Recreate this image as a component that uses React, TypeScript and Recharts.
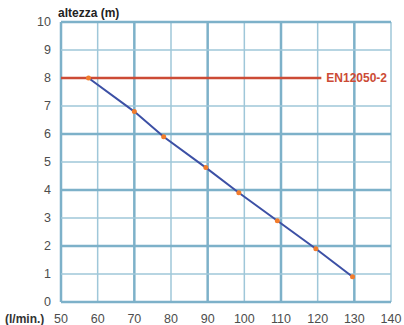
import React from 'react';
import { ComposedChart, XAxis, YAxis, Line, ReferenceLine, LabelList } from 'recharts';

const flowTicks = [50, 60, 70, 80, 90, 100, 110, 120, 130, 140];
const heightTicks = [0, 1, 2, 3, 4, 5, 6, 7, 8, 9, 10];
const flowValues = [57.5, 70, 78, 89.5, 98.5, 109, 119.5, 129.5];
const headValues = [8, 6.8, 5.9, 4.8, 3.9, 2.9, 1.9, 0.9];
const normLevel = 8;
const normStart = 50;
const normEnd = 121;
const normLabel = 'EN12050-2';
const xTitle = '(l/min.)';
const yTitle = 'altezza (m)';

const curve = flowValues.map((q, i) => ({ q, h: headValues[i] }));
const normLine = [
  { q: normStart, h: normLevel, tag: '' },
  { q: normEnd, h: normLevel, tag: normLabel },
];

const FONT = '"Liberation Sans", Arial, sans-serif';
const MAJOR = '#7db1c9';
const MINOR = '#9fc7d9';
const RED = '#cc4b35';

const NormTag = (props: any) => {
  const { x, y, value } = props;
  if (!value) return null;
  return (
    <text
      x={x + 5}
      y={y}
      dy="0.36em"
      fill={RED}
      fontSize={12}
      fontWeight="bold"
      fontFamily={FONT}
      textAnchor="start"
    >
      {value}
    </text>
  );
};

export default function App() {
  return (
    <div style={{ position: 'absolute', left: 0, top: 0, background: '#fff' }}>
      <ComposedChart
        width={404}
        height={325}
        data={curve}
        margin={{ top: 22, right: 13, left: 0, bottom: 0 }}
      >
        <XAxis
          dataKey="q"
          type="number"
          domain={[50, 140]}
          ticks={flowTicks}
          allowDataOverflow
          axisLine={false}
          tickLine={false}
          tickSize={0}
          tickMargin={12}
          height={23}
          interval={0}
          tick={{ fill: '#4d4d4d', fontSize: 12.5, fontFamily: FONT }}
          label={{
            content: () => (
              <text x={5} y={323} fill="#333" fontSize={12} fontWeight="bold" fontFamily={FONT}>
                {xTitle}
              </text>
            ),
          }}
        />
        <YAxis
          type="number"
          domain={[0, 10]}
          ticks={heightTicks}
          allowDataOverflow
          axisLine={false}
          tickLine={false}
          tickSize={0}
          tickMargin={10}
          width={61}
          interval={0}
          tick={{ fill: '#4d4d4d', fontSize: 12.5, fontFamily: FONT }}
          label={{
            content: () => (
              <text x={58} y={17} fill="#222" fontSize={12} fontWeight="bold" fontFamily={FONT}>
                {yTitle}
              </text>
            ),
          }}
        />
        {flowTicks.map((v) => (
          <ReferenceLine
            key={'vx' + v}
            x={v}
            stroke={(v - 50) % 20 === 0 ? MAJOR : MINOR}
            strokeWidth={(v - 50) % 20 === 0 ? 2.5 : 1.5}
          />
        ))}
        {heightTicks
          .filter((v) => v !== normLevel)
          .map((v) => (
            <ReferenceLine
              key={'hy' + v}
              y={v}
              stroke={v % 2 === 0 ? MAJOR : MINOR}
              strokeWidth={v % 2 === 0 ? 2.5 : 1.5}
            />
          ))}
        <Line
          data={normLine}
          dataKey="h"
          stroke={RED}
          strokeWidth={2.5}
          dot={false}
          activeDot={false}
          isAnimationActive={false}
        >
          <LabelList dataKey="tag" content={NormTag} />
        </Line>
        <Line
          dataKey="h"
          stroke="#3c50a5"
          strokeWidth={2}
          isAnimationActive={false}
          dot={{ r: 2.5, fill: '#f27c2c', stroke: 'none' }}
          activeDot={false}
        />
      </ComposedChart>
    </div>
  );
}
